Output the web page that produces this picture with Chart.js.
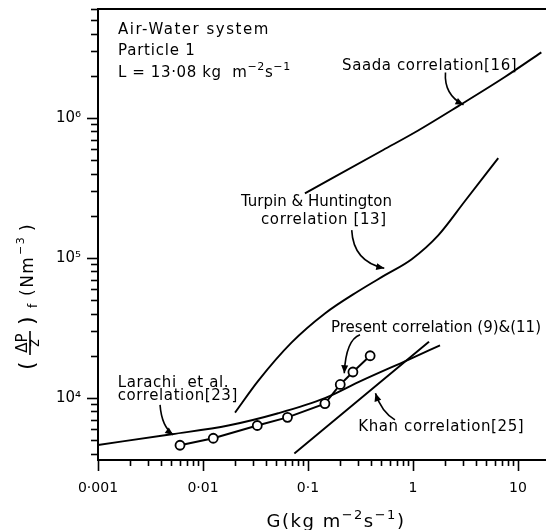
<!DOCTYPE html>
<html>
<head>
<meta charset="utf-8">
<script src="https://cdn.jsdelivr.net/npm/chart.js@4.4.1/dist/chart.umd.min.js"></script>
<style>
  html, body { margin: 0; padding: 0; background: #fff; }
  canvas { display: block; }
</style>
</head>
<body>
<canvas id="pressureDropChart" width="546" height="530"></canvas>
<script>
const FONT = "'DejaVu Sans', 'Liberation Sans', sans-serif";

// Axis ticks
const xTicks = [0.001, 0.01, 0.1, 1, 10];
const xTickLabels = ['0·001', '0·01', '0·1', '1', '10'];
const yTicks = [1e4, 1e5, 1e6];
const yTickLabels = ['10⁴', '10⁵', '10⁶'];

// Present correlation (9)&(11), experimental points
const presentG = [0.00604, 0.01253, 0.0329, 0.0638, 0.145, 0.203, 0.268, 0.391];
const presentDP = [4590, 5150, 6350, 7260, 9100, 12470, 15310, 20000];

// Larachi et al. correlation [23]
const larachiG = [0.001, 0.00504, 0.0174, 0.0521, 0.145, 0.324, 0.901, 1.81];
const larachiDP = [4610, 5500, 6350, 7770, 9950, 13280, 18710, 23720];

// Turpin & Huntington correlation [13]
const turpinG = [0.0202, 0.0337, 0.070, 0.145, 0.301, 0.541, 0.973, 1.74, 3.13, 6.49];
const turpinDP = [7850, 13280, 24900, 40100, 57800, 75300, 98000, 145000, 255000, 516000];

// Saada correlation [16]
const saadaG = [0.0935, 0.52, 1.11, 2.68, 7.5, 16.7];
const saadaDP = [289000, 590000, 810000, 1210000, 1960000, 2940000];

// Khan correlation [25]
const khanG = [0.0742, 1.42];
const khanDP = [4010, 25200];

// Text notes, anchored (left, baseline) in data units
const noteText = [
    'Air-Water system',
    'Particle 1',
    'L = 13·08 kg  m^{−2}s^{−1}',
    'Saada correlation[16]',
    'Turpin & Huntington',
    'correlation [13]',
    'Present correlation (9)&(11)',
    'Larachi  et al.',
    'correlation[23]',
    'Khan correlation[25]'
];
const noteG = [1.55e-3, 1.55e-3, 1.55e-3, 0.211, 0.0230, 0.0357, 0.1656, 1.54e-3, 1.54e-3, 0.301];
const noteP = [3.95e6, 2.80e6, 1.96e6, 2.20e6, 2.35e5, 1.76e5, 29600, 11990, 9680, 5810];
const noteSpacing = [1.5, 0.8, 0.6, 0.6, 0, 0.6, 0, 0.6, 0.6, 0.6];

// Pointer arrows: tail, bend, head as [G, dP/z]
const arrowFrom = [[2.04, 2.11e6], [0.261, 1.58e5], [0.313, 28200], [0.00390, 8910], [0.674, 6966]];
const arrowVia = [[1.97, 1.46e6], [0.270, 94100], [0.230, 25960], [0.00404, 6240], [0.499, 7984]];
const arrowTo = [[3.03, 1.24e6], [0.533, 84400], [0.2217, 15010], [0.00521, 5440], [0.4395, 10800]];

function toPoints(xs, ys) {
    return xs.map((x, i) => ({ x: x, y: ys[i] }));
}

function drawRich(ctx, x, y, str, size, align) {
    const parts = str.split(/\^\{([^}]*)\}/).map((t, i) => ({ t: t, sup: i % 2 === 1 }));
    const fontOf = p => (p.sup ? Math.round(size * 0.7) : size) + 'px ' + FONT;
    let w = 0;
    parts.forEach(p => { ctx.font = fontOf(p); w += ctx.measureText(p.t).width; });
    let cx = align === 'center' ? x - w / 2 : x;
    parts.forEach(p => {
        ctx.font = fontOf(p);
        ctx.fillText(p.t, cx, p.sup ? y - size * 0.45 : y);
        cx += ctx.measureText(p.t).width;
    });
}

function drawYTitle(ctx, cx, cy) {
    ctx.save();
    ctx.translate(cx, cy);
    ctx.rotate(-Math.PI / 2);
    ctx.textAlign = 'left';
    const put = (t, size, x, y) => { ctx.font = size + 'px ' + FONT; ctx.fillText(t, x, y); };
    put('(', 22, -78, 1);
    ctx.textAlign = 'center';
    put('ΔP', 15, -51, -6);
    put('z', 15, -51, 6);
    ctx.textAlign = 'left';
    ctx.lineWidth = 1.6;
    ctx.beginPath();
    ctx.moveTo(-63, -3);
    ctx.lineTo(-39, -3);
    ctx.stroke();
    put(')', 22, -33, 1);
    put('f', 12, -16, 4);
    ctx.letterSpacing = '1.5px';
    put('(Nm', 17, -4, 0);
    put('−3', 11, 37, -9);
    put(')', 17, 61, 0);
    ctx.restore();
}

const decorPlugin = {
    id: 'decor',
    afterDraw(chart) {
        const ctx = chart.ctx;
        const area = chart.chartArea;
        const xs = chart.scales.x;
        const ys = chart.scales.y;
        ctx.save();
        ctx.strokeStyle = '#000';
        ctx.fillStyle = '#000';

        // top frame line
        ctx.lineWidth = 2;
        ctx.beginPath();
        ctx.moveTo(area.left - 1, area.top);
        ctx.lineTo(chart.width, area.top);
        ctx.stroke();

        // log tick marks, long at decades
        ctx.lineWidth = 1.6;
        for (let e = -3; e <= 1; e++) {
            for (let k = 1; k <= 9; k++) {
                const v = k * Math.pow(10, e);
                if (v > xs.max) continue;
                const px = Math.round(xs.getPixelForValue(v)) + 0.5;
                ctx.beginPath();
                ctx.moveTo(px, area.bottom);
                ctx.lineTo(px, area.bottom + (k === 1 ? 11 : 6));
                ctx.stroke();
            }
        }
        for (let e = 3; e <= 6; e++) {
            for (let k = 1; k <= 9; k++) {
                const v = k * Math.pow(10, e);
                if (v < ys.min || v > ys.max) continue;
                const py = Math.round(ys.getPixelForValue(v)) + 0.5;
                ctx.beginPath();
                ctx.moveTo(area.left, py);
                ctx.lineTo(area.left - (k === 1 ? 11 : 7), py);
                ctx.stroke();
            }
        }

        // notes
        ctx.textAlign = 'left';
        ctx.textBaseline = 'alphabetic';
        noteText.forEach((t, i) => {
            ctx.letterSpacing = noteSpacing[i] + 'px';
            drawRich(ctx, xs.getPixelForValue(noteG[i]), ys.getPixelForValue(noteP[i]), t, 15, 'left');
        });

        // arrows
        ctx.lineWidth = 1.6;
        arrowFrom.forEach((a, i) => {
            const x0 = xs.getPixelForValue(a[0]), y0 = ys.getPixelForValue(a[1]);
            const x1 = xs.getPixelForValue(arrowVia[i][0]), y1 = ys.getPixelForValue(arrowVia[i][1]);
            const x2 = xs.getPixelForValue(arrowTo[i][0]), y2 = ys.getPixelForValue(arrowTo[i][1]);
            ctx.beginPath();
            ctx.moveTo(x0, y0);
            ctx.quadraticCurveTo(x1, y1, x2, y2);
            ctx.stroke();
            const ang = Math.atan2(y2 - y1, x2 - x1);
            const c = Math.cos(ang), s = Math.sin(ang);
            ctx.beginPath();
            ctx.moveTo(x2, y2);
            ctx.lineTo(x2 - 8 * c + 3.5 * s, y2 - 8 * s - 3.5 * c);
            ctx.lineTo(x2 - 8 * c - 3.5 * s, y2 - 8 * s + 3.5 * c);
            ctx.closePath();
            ctx.fill();
        });

        // axis titles
        ctx.letterSpacing = '1.5px';
        drawRich(ctx, (area.left + area.right) / 2 + 14, 527, 'G(kg m^{−2}s^{−1})', 18, 'center');
        ctx.letterSpacing = '0px';
        drawYTitle(ctx, 33, 292);
        ctx.restore();
    }
};

const lineStyle = {
    borderColor: '#000',
    borderWidth: 1.9,
    pointRadius: 0,
    fill: false,
    cubicInterpolationMode: 'monotone'
};

new Chart(document.getElementById('pressureDropChart'), {
    type: 'line',
    data: {
        datasets: [
            {
                label: 'Present correlation (9)&(11)',
                data: toPoints(presentG, presentDP),
                borderColor: '#000',
                borderWidth: 1.9,
                pointRadius: 4.5,
                pointBackgroundColor: '#fff',
                pointBorderColor: '#000',
                pointBorderWidth: 1.8,
                tension: 0
            },
            Object.assign({ label: 'Larachi et al. correlation [23]', data: toPoints(larachiG, larachiDP) }, lineStyle),
            Object.assign({ label: 'Turpin & Huntington correlation [13]', data: toPoints(turpinG, turpinDP) }, lineStyle),
            Object.assign({ label: 'Saada correlation [16]', data: toPoints(saadaG, saadaDP) }, lineStyle),
            Object.assign({ label: 'Khan correlation [25]', data: toPoints(khanG, khanDP) }, lineStyle)
        ]
    },
    options: {
        responsive: false,
        animation: false,
        layout: { autoPadding: false, padding: { top: 9, right: 0, bottom: 0, left: 0 } },
        plugins: {
            legend: { display: false },
            tooltip: { enabled: false }
        },
        scales: {
            x: {
                type: 'logarithmic',
                min: 0.001,
                max: 18.5,
                afterBuildTicks: scale => { scale.ticks = xTicks.map(v => ({ value: v })); },
                afterFit: scale => {
                    scale.height = 70;
                    scale.paddingLeft = 0;
                    scale.paddingRight = 0;
                },
                grid: { display: false, drawTicks: false },
                border: { display: true, color: '#000', width: 2 },
                ticks: {
                    autoSkip: false,
                    maxRotation: 0,
                    padding: 20,
                    color: '#000',
                    font: { family: FONT, size: 14 },
                    callback: (value, index) => xTickLabels[index]
                }
            },
            y: {
                type: 'logarithmic',
                min: 3600,
                max: 6.0e6,
                afterBuildTicks: scale => { scale.ticks = yTicks.map(v => ({ value: v })); },
                afterFit: scale => {
                    scale.width = 98;
                    scale.paddingTop = 0;
                    scale.paddingBottom = 0;
                },
                grid: { display: false, drawTicks: false },
                border: { display: true, color: '#000', width: 2 },
                ticks: {
                    autoSkip: false,
                    padding: 17,
                    color: '#000',
                    font: { family: FONT, size: 15 },
                    callback: (value, index) => yTickLabels[index]
                }
            }
        }
    },
    plugins: [decorPlugin]
});
</script>
</body>
</html>
